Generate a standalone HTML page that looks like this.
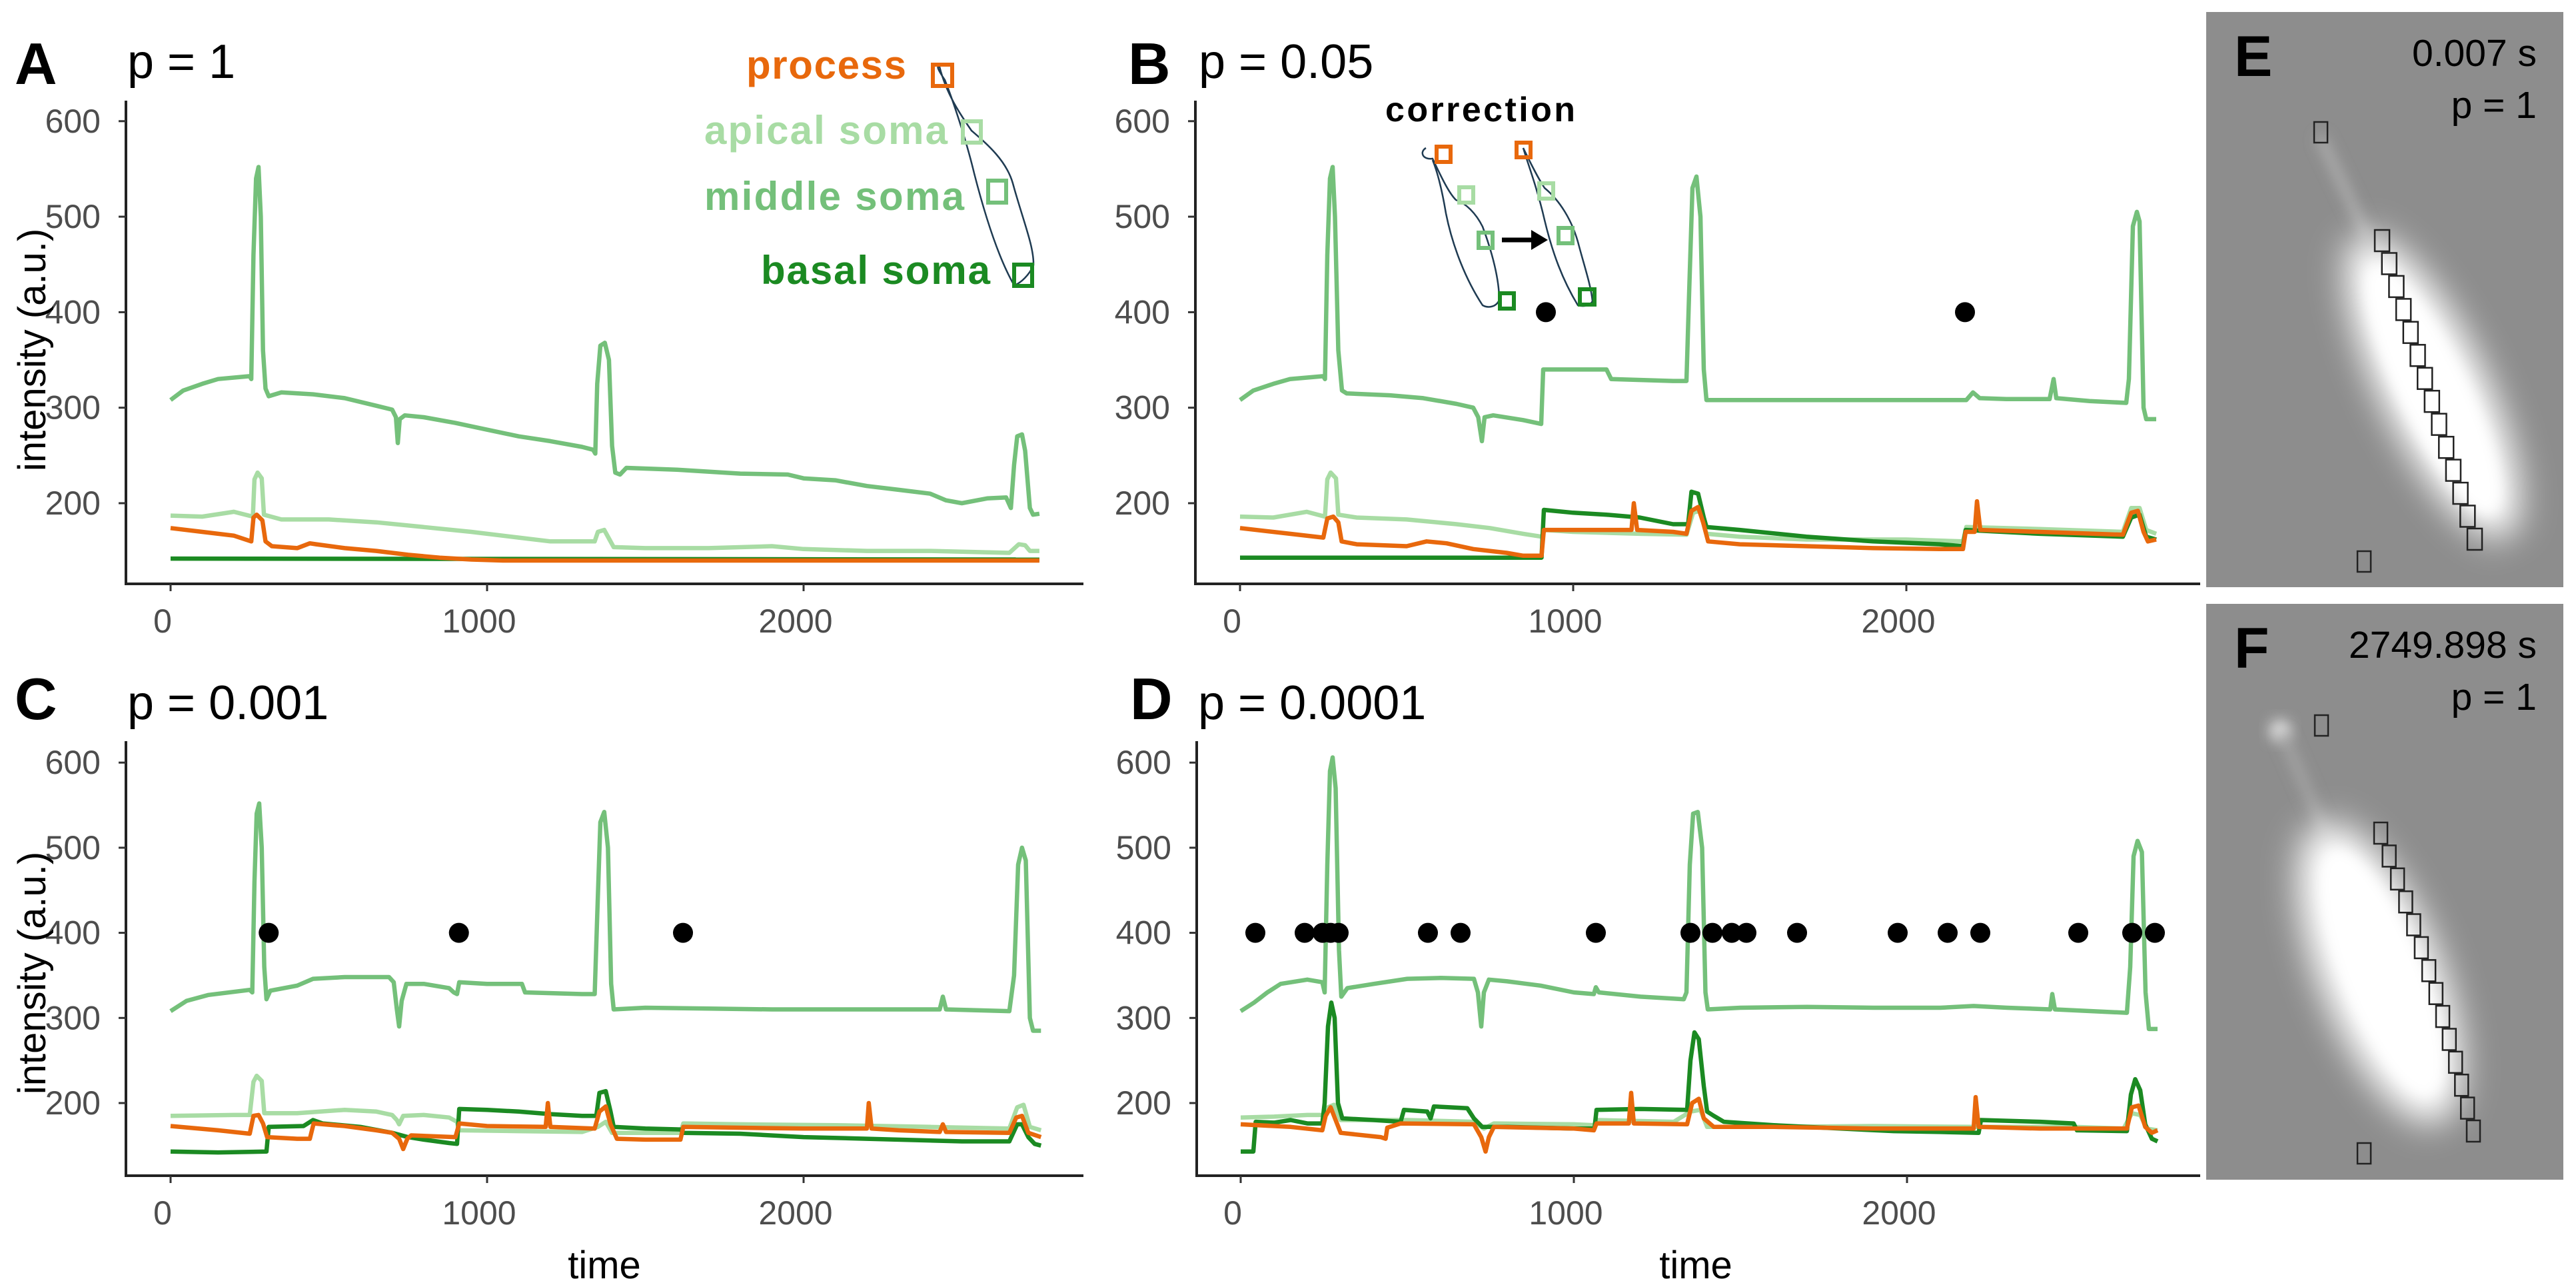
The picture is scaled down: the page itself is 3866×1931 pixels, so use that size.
<!DOCTYPE html>
<html><head><meta charset="utf-8"><title>Intensity traces</title>
<style>
html,body{margin:0;padding:0;background:#fff;}
svg{display:block;}
text{font-family:"Liberation Sans",Arial,sans-serif;}
</style></head>
<body>
<svg id="fig" width="3866" height="1931" viewBox="0 0 3866 1931" xmlns="http://www.w3.org/2000/svg">
<defs>
  <filter id="blur30" x="-50%" y="-50%" width="200%" height="200%"><feGaussianBlur stdDeviation="26"/></filter>
  <filter id="blur12" x="-50%" y="-50%" width="200%" height="200%"><feGaussianBlur stdDeviation="10"/></filter>
  <clipPath id="clipE"><rect x="3311" y="18" width="536" height="863"/></clipPath>
  <clipPath id="clipF"><rect x="3311" y="906" width="536" height="864"/></clipPath>
</defs>
<g id="panels"></g>

<!-- Panel titles -->
<text x="22" y="126" font-size="88" font-weight="bold">A</text>
<text x="191" y="117" font-size="72">p = 1</text>
<text x="1693" y="126" font-size="88" font-weight="bold">B</text>
<text x="1799" y="117" font-size="72">p = 0.05</text>
<text x="22" y="1079" font-size="88" font-weight="bold">C</text>
<text x="191" y="1079" font-size="72">p = 0.001</text>
<text x="1696" y="1079" font-size="88" font-weight="bold">D</text>
<text x="1798" y="1079" font-size="72">p = 0.0001</text>

<!-- Y axis titles -->
<text transform="translate(68,525) rotate(-90)" text-anchor="middle" font-size="58">intensity (a.u.)</text>
<text transform="translate(68,1460) rotate(-90)" text-anchor="middle" font-size="58">intensity (a.u.)</text>
<!-- X axis titles -->
<text x="907" y="1918" text-anchor="middle" font-size="58">time</text>
<text x="2545" y="1918" text-anchor="middle" font-size="58">time</text>

<!-- Legend in A -->
<g>
  <path d="M1410,100 C1420,140 1440,170 1458,196 C1480,215 1510,240 1520,275 C1535,330 1552,370 1551,398 C1545,412 1532,425 1522,428 C1500,390 1480,330 1462,260 C1450,210 1430,150 1418,120 C1410,108 1404,98 1410,100 Z" fill="none" stroke="#1f3b52" stroke-width="2.5"/>
  <text x="1120" y="118" font-size="60" font-weight="bold" fill="#E8680C" textLength="240">process</text>
  <rect x="1400" y="97" width="29" height="32" fill="none" stroke="#E8680C" stroke-width="6"/>
  <text x="1057" y="216" font-size="60" font-weight="bold" fill="#A8DCA4" textLength="365">apical soma</text>
  <rect x="1445" y="182" width="27" height="32" fill="none" stroke="#A8DCA4" stroke-width="6"/>
  <text x="1057" y="315" font-size="60" font-weight="bold" fill="#74C07A" textLength="390">middle soma</text>
  <rect x="1483" y="271" width="27" height="33" fill="none" stroke="#74C07A" stroke-width="6"/>
  <text x="1142" y="426" font-size="60" font-weight="bold" fill="#1B8A22" textLength="344">basal soma</text>
  <rect x="1522" y="397" width="27" height="32" fill="none" stroke="#1B8A22" stroke-width="6"/>
</g>

<!-- Correction inset in B -->
<g>
  <text x="2079" y="182" font-size="52" font-weight="bold" textLength="285">correction</text>
  <path d="M2140,222 C2130,228 2135,240 2150,238 C2165,270 2175,290 2185,300 C2200,305 2215,320 2225,340 C2240,380 2250,420 2250,450 C2245,462 2232,462 2225,458 C2200,420 2180,370 2170,320 C2165,290 2158,260 2150,240" fill="none" stroke="#1f3b52" stroke-width="2.5"/>
  <path d="M2286,222 C2295,240 2305,262 2318,282 C2340,300 2360,330 2370,370 C2378,400 2388,430 2390,452 C2385,460 2375,460 2368,458 C2345,420 2330,380 2318,330 C2310,295 2300,265 2290,235 Z" fill="none" stroke="#1f3b52" stroke-width="2.5"/>
  <rect x="2156" y="220" width="21" height="23" fill="none" stroke="#E8680C" stroke-width="6"/>
  <rect x="2190" y="281" width="21" height="23" fill="none" stroke="#A8DCA4" stroke-width="6"/>
  <rect x="2219" y="349" width="21" height="23" fill="none" stroke="#74C07A" stroke-width="6"/>
  <rect x="2251" y="440" width="21" height="23" fill="none" stroke="#1B8A22" stroke-width="6"/>
  <rect x="2276" y="214" width="21" height="22" fill="none" stroke="#E8680C" stroke-width="6"/>
  <rect x="2310" y="275" width="21" height="23" fill="none" stroke="#A8DCA4" stroke-width="6"/>
  <rect x="2339" y="342" width="21" height="23" fill="none" stroke="#74C07A" stroke-width="6"/>
  <rect x="2371" y="434" width="22" height="23" fill="none" stroke="#1B8A22" stroke-width="6"/>
  <line x1="2254" y1="360" x2="2300" y2="360" stroke="#000" stroke-width="7"/>
  <polygon points="2298,345 2323,360 2298,375" fill="#000"/>
</g>

<!-- Photo E -->
<g>
  <rect x="3311" y="18" width="536" height="863" fill="#8d8d8d"/>
  <g clip-path="url(#clipE)">
    <line x1="3482" y1="205" x2="3555" y2="360" stroke="#b5b5b5" stroke-width="12" filter="url(#blur12)"/>
    <ellipse cx="3651" cy="580" rx="78" ry="250" transform="rotate(-26 3651 580)" fill="#ffffff" filter="url(#blur30)"/>
    <ellipse cx="3651" cy="585" rx="50" ry="205" transform="rotate(-26 3651 585)" fill="#ffffff" filter="url(#blur12)"/>
  </g>
  <g id="sqE" fill="none" stroke="#222" stroke-width="2.5"></g>
  <text x="3353" y="114" font-size="86" font-weight="bold">E</text>
  <text x="3807" y="99" font-size="57" text-anchor="end">0.007 s</text>
  <text x="3807" y="177" font-size="57" text-anchor="end">p = 1</text>
</g>
<!-- Photo F -->
<g>
  <rect x="3311" y="906" width="536" height="864" fill="#8d8d8d"/>
  <g clip-path="url(#clipF)">
    <circle cx="3422" cy="1096" r="16" fill="#e0e0e0" filter="url(#blur12)"/>
    <line x1="3425" y1="1100" x2="3490" y2="1250" stroke="#aaaaaa" stroke-width="12" filter="url(#blur12)"/>
    <ellipse cx="3572" cy="1460" rx="90" ry="240" transform="rotate(-22 3572 1460)" fill="#ffffff" filter="url(#blur30)"/>
    <ellipse cx="3575" cy="1460" rx="58" ry="195" transform="rotate(-22 3575 1460)" fill="#ffffff" filter="url(#blur12)"/>
  </g>
  <g id="sqF" fill="none" stroke="#222" stroke-width="2.5"></g>
  <text x="3353" y="1002" font-size="86" font-weight="bold">F</text>
  <text x="3807" y="987" font-size="57" text-anchor="end">2749.898 s</text>
  <text x="3807" y="1065" font-size="57" text-anchor="end">p = 1</text>
</g>
</svg>

<script>
// ---------- DATA ----------
const xTicks = [0, 1000, 2000];
const yTicks = [200, 300, 400, 500, 600];
const dotLevel = 400;

const A_middle = [[0,308],[40,318],[100,325],[150,330],[250,333],[255,330],[262,460],[270,540],[278,552],[285,500],[292,360],[300,320],[310,312],[350,316],[450,314],[550,310],[650,302],[700,298],[712,290],[718,263],[724,288],[740,292],[800,290],[900,284],[1000,277],[1100,270],[1200,265],[1300,259],[1335,256],[1342,252],[1348,325],[1358,365],[1372,368],[1385,350],[1395,260],[1405,232],[1420,230],[1440,237],[1600,235],[1800,231],[1950,230],[2000,226],[2100,224],[2200,218],[2300,214],[2400,210],[2450,203],[2500,200],[2580,205],[2640,206],[2655,195],[2665,240],[2675,270],[2690,272],[2700,255],[2715,195],[2725,188],[2745,189]];
const A_apical = [[0,187],[100,186],[200,191],[260,186],[265,225],[275,232],[288,226],[295,188],[350,183],[500,183],[650,180],[800,175],[950,170],[1100,164],[1200,160],[1340,160],[1350,170],[1370,172],[1385,163],[1400,154],[1500,153],[1700,153],[1900,155],[2000,152],[2200,150],[2400,150],[2650,148],[2680,157],[2700,156],[2715,150],[2745,150]];
const A_basal = [[0,142],[2745,141]];
const A_process = [[0,174],[100,170],[200,166],[255,160],[262,185],[272,188],[290,182],[300,160],[320,155],[400,153],[440,158],[460,157],[550,153],[650,150],[750,146],[850,143],[950,141],[1050,140],[2745,140]];

const B_middle = [[0,308],[40,318],[100,325],[150,330],[250,333],[255,330],[262,460],[270,540],[278,552],[285,500],[295,360],[306,318],[320,315],[450,313],[550,310],[650,304],[700,300],[715,290],[726,265],[734,290],[760,292],[850,287],[904,283],[910,340],[1000,340],[1100,340],[1114,330],[1300,328],[1340,328],[1348,420],[1358,530],[1370,542],[1382,500],[1392,340],[1400,308],[1500,308],[1800,308],[2100,308],[2180,308],[2200,316],[2220,310],[2300,309],[2430,309],[2442,330],[2450,310],[2550,307],[2660,305],[2668,330],[2680,490],[2692,505],[2700,495],[2712,300],[2720,288],[2750,288]];
const B_apical = [[0,186],[100,185],[200,191],[255,186],[262,225],[272,232],[288,226],[295,188],[350,185],[500,183],[650,178],[750,174],[850,168],[905,165],[915,172],[1000,170],[1200,168],[1340,167],[1360,190],[1380,192],[1400,168],[1500,165],[1700,162],[2000,162],[2170,160],[2180,175],[2400,173],[2650,170],[2675,195],[2700,195],[2720,172],[2750,168]];
const B_basal = [[0,143],[905,143],[912,193],[1000,190],[1100,188],[1200,185],[1300,178],[1345,178],[1355,212],[1375,210],[1392,185],[1400,175],[1500,172],[1700,165],[1900,160],[2100,157],[2170,155],[2178,172],[2400,168],[2650,165],[2675,185],[2700,188],[2720,165],[2750,162]];
const B_process = [[0,174],[150,168],[250,164],[262,184],[280,186],[295,180],[305,160],[350,157],[500,155],[560,160],[620,158],[700,152],[800,148],[850,145],[905,145],[912,172],[1000,172],[1175,172],[1182,200],[1192,172],[1300,170],[1340,168],[1355,192],[1375,196],[1390,180],[1405,160],[1500,157],[1700,155],[1900,153],[2100,152],[2170,152],[2178,170],[2205,170],[2212,202],[2222,172],[2400,170],[2650,167],[2675,190],[2695,192],[2712,170],[2725,160],[2750,162]];
const B_dots = [918, 2176];

const C_middle = [[0,308],[50,320],[120,327],[250,333],[258,330],[265,460],[272,540],[280,552],[288,500],[296,360],[303,322],[315,332],[400,338],[450,346],[550,348],[690,348],[705,342],[715,310],[722,290],[730,320],[745,340],[800,340],[880,335],[895,330],[905,328],[912,342],[1000,340],[1110,340],[1120,330],[1300,328],[1340,328],[1348,420],[1358,530],[1370,542],[1382,500],[1392,340],[1400,310],[1500,312],[1700,311],[1900,310],[2100,310],[2430,310],[2440,325],[2450,310],[2650,308],[2665,350],[2678,480],[2690,500],[2702,485],[2715,300],[2725,285],[2750,285]];
const C_apical = [[0,185],[200,186],[250,186],[262,225],[272,232],[288,226],[296,188],[400,188],[550,192],[650,190],[700,186],[715,180],[722,175],[735,185],[800,186],[880,183],[905,178],[912,168],[1100,167],[1300,166],[1350,172],[1375,178],[1395,165],[1611,165],[1620,176],[1800,175],[2100,174],[2400,172],[2650,170],[2675,195],[2695,198],[2715,172],[2750,168]];
const C_basal = [[0,143],[150,142],[303,143],[310,172],[420,173],[450,180],[480,176],[600,172],[700,165],[750,160],[800,157],[880,153],[905,152],[912,193],[1000,192],[1100,190],[1200,187],[1300,185],[1345,185],[1355,212],[1375,214],[1390,190],[1400,172],[1500,170],[1611,169],[1620,165],[1800,164],[2000,160],[2200,158],[2500,155],[2650,155],[2675,175],[2690,175],[2710,160],[2730,152],[2750,150]];
const C_process = [[0,173],[150,168],[250,164],[262,185],[278,186],[292,176],[305,160],[400,158],[440,158],[452,176],[550,173],[650,168],[700,165],[722,158],[735,146],[748,158],[760,162],[900,160],[912,176],[1000,173],[1185,172],[1192,200],[1200,172],[1340,170],[1355,190],[1375,196],[1390,175],[1410,158],[1500,157],[1611,157],[1620,172],[1800,171],[2000,170],[2200,170],[2206,200],[2215,170],[2300,168],[2430,166],[2440,175],[2450,166],[2650,165],[2672,183],[2690,185],[2710,165],[2750,160]];
const C_dots = [310, 911, 1619];

const D_middle = [[0,308],[40,318],[80,330],[120,340],[200,345],[245,342],[252,330],[260,480],[268,590],[276,606],[285,570],[295,380],[302,325],[320,335],[400,340],[500,346],[600,347],[700,346],[712,330],[722,290],[730,330],[745,345],[800,343],[900,338],[1000,330],[1060,328],[1066,336],[1075,330],[1200,325],[1330,322],[1338,330],[1348,480],[1358,540],[1372,542],[1385,500],[1395,330],[1402,310],[1500,312],[1700,313],[1900,312],[2100,312],[2200,314],[2300,312],[2430,310],[2436,328],[2444,310],[2660,306],[2670,360],[2680,490],[2692,508],[2705,495],[2716,330],[2726,287],[2752,287]];
const D_apical = [[0,183],[100,184],[200,186],[250,186],[262,195],[280,198],[300,180],[500,180],[700,178],[730,170],[760,176],[1000,175],[1060,174],[1070,180],[1300,178],[1350,190],[1380,192],[1400,172],[1600,172],[1900,173],[2200,172],[2500,172],[2650,170],[2675,188],[2700,186],[2720,170],[2752,168]];
const D_basal = [[0,143],[38,143],[45,178],[100,177],[150,180],[200,176],[245,176],[252,200],[262,290],[272,318],[282,300],[292,200],[305,182],[400,180],[480,178],[490,192],[560,190],[570,182],[580,196],[680,194],[700,182],[725,172],[800,172],[1000,170],[1062,170],[1068,192],[1200,193],[1340,192],[1350,250],[1362,283],[1375,275],[1390,220],[1400,190],[1420,185],[1450,178],[1600,174],[1800,170],[1960,167],[2100,166],[2215,165],[2222,180],[2400,178],[2500,176],[2510,168],[2660,167],[2672,210],[2685,228],[2700,215],[2715,175],[2735,158],[2752,155]];
const D_process = [[0,175],[150,172],[245,168],[255,185],[270,195],[285,180],[300,165],[420,160],[435,158],[440,171],[480,176],[700,175],[722,160],[735,143],[745,160],[760,172],[1000,170],[1060,168],[1068,176],[1165,176],[1172,212],[1180,176],[1340,175],[1355,200],[1375,205],[1390,182],[1420,172],[1600,172],[1900,170],[2200,170],[2206,207],[2215,172],[2400,170],[2660,170],[2675,195],[2695,197],[2715,172],[2735,165],[2752,168]];
const D_dots = [44,192,246,270,294,562,660,1066,1350,1416,1474,1518,1670,1972,2122,2220,2514,2676,2744];

// ---------- RENDER ----------
const NS = 'http://www.w3.org/2000/svg';
const COLORS = {middle:'#74C07A', apical:'#A8DCA4', basal:'#1B8A22', process:'#E8680C'};
const root = document.getElementById('panels');

function mk(tag, attrs, parent){
  const e = document.createElementNS(NS, tag);
  for (const k in attrs) e.setAttribute(k, attrs[k]);
  (parent||root).appendChild(e);
  return e;
}

const panels = [
  {id:'a', axL:189, axR:1626, axT:151, axB:876, x0:256, kx:0.475, y200:755, ky:1.433,
   series:{middle:A_middle, apical:A_apical, basal:A_basal, process:A_process}, dots:[]},
  {id:'b', axL:1794, axR:3302, axT:151, axB:876, x0:1861, kx:0.5, y200:755, ky:1.433,
   series:{middle:B_middle, apical:B_apical, basal:B_basal, process:B_process}, dots:B_dots},
  {id:'c', axL:189, axR:1626, axT:1112, axB:1764, x0:256, kx:0.475, y200:1655, ky:1.277,
   series:{middle:C_middle, apical:C_apical, basal:C_basal, process:C_process}, dots:C_dots},
  {id:'d', axL:1796, axR:3302, axT:1112, axB:1764, x0:1862, kx:0.5, y200:1655, ky:1.277,
   series:{middle:D_middle, apical:D_apical, basal:D_basal, process:D_process}, dots:D_dots}
];

panels.forEach(p => {
  const xs = t => p.x0 + t * p.kx;
  const ys = v => p.y200 - (v - 200) * p.ky;
  const g = mk('g', {});
  
  

  const ya = mk('line', {x1:p.axL, y1:p.axT, x2:p.axL, y2:p.axB, stroke:'#222', 'stroke-width':4}, g);
  
  
  const xa = mk('line', {x1:p.axL-2, y1:p.axB, x2:p.axR, y2:p.axB, stroke:'#222', 'stroke-width':4}, g);
  
  

  yTicks.forEach(v => {
    const y = ys(v);
    mk('line', {x1:p.axL-11, y1:y, x2:p.axL, y2:y, stroke:'#333', 'stroke-width':3}, g);
    const t = mk('text', {x:p.axL-38, y:y+17, 'text-anchor':'end', 'font-size':50, fill:'#4d4d4d'}, g);
    t.textContent = v;
    
    
  });
  xTicks.forEach(v => {
    const x = xs(v);
    mk('line', {x1:x, y1:p.axB, x2:x, y2:p.axB+11, stroke:'#333', 'stroke-width':3}, g);
    const t = mk('text', {x:x-12, y:p.axB+73, 'text-anchor':'middle', 'font-size':50, fill:'#4d4d4d'}, g);
    t.textContent = v;
    
    
  });

  ['middle','apical','basal','process'].forEach(name => {
    const pts = p.series[name];
    const d = pts.map((pt, i) => (i ? 'L' : 'M') + xs(pt[0]).toFixed(1) + ',' + ys(pt[1]).toFixed(1)).join(' ');
    const path = mk('path', {d:d, fill:'none', stroke:COLORS[name], 'stroke-width':6.5, 'stroke-linejoin':'round'}, g);
    
    
  });

  p.dots.forEach(t => {
    const c = mk('circle', {cx:xs(t), cy:ys(dotLevel), r:15, fill:'#000'}, g);
    
    
  });
});

function squares(gid, x1, y1, x2, y2, n, w, h, bend){
  const g = document.getElementById(gid);
  for (let i = 0; i < n; i++){
    const f = i / (n - 1);
    const x = x1 + (x2 - x1) * f - bend * Math.sin(Math.PI * f);
    const y = y1 + (y2 - y1) * f;
    const r = mk('rect', {x:x.toFixed(1), y:y.toFixed(1), width:w, height:h}, g);
    
    
  }
}
squares('sqE', 3564, 345, 3703, 793, 14, 22, 32, 0);
squares('sqF', 3563, 1234, 3702, 1681, 14, 20, 32, -8);
[[3473,183],[3538,827]].forEach(p => {
  const r = mk('rect', {x:p[0], y:p[1], width:20, height:31}, document.getElementById('sqE'));
  
  
});
[[3474,1073],[3538,1715]].forEach(p => {
  const r = mk('rect', {x:p[0], y:p[1], width:20, height:31}, document.getElementById('sqF'));
  
  
});
</script>
</body></html>
